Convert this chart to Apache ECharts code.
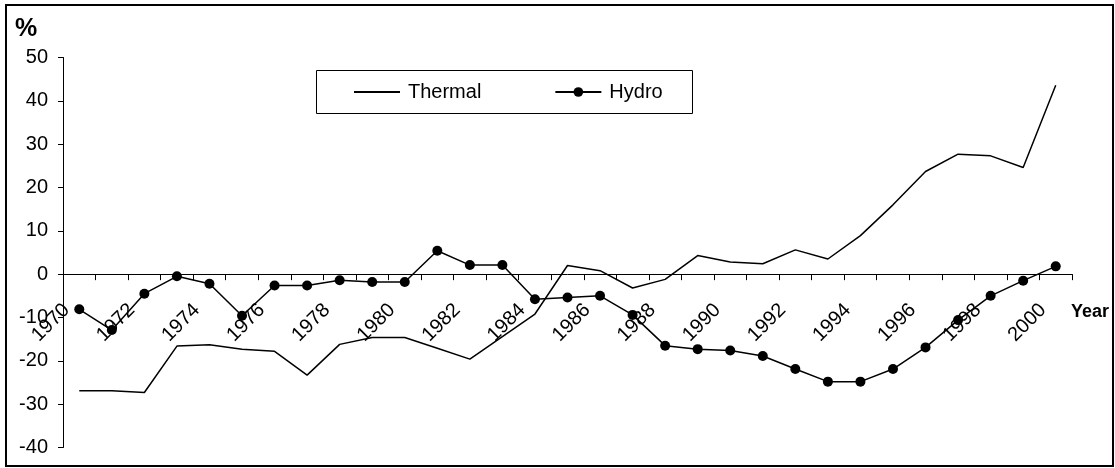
<!DOCTYPE html>
<html>
<head>
<meta charset="utf-8">
<script src="https://cdn.jsdelivr.net/npm/echarts@6/dist/echarts.min.js"></script>
<style>
html,body{margin:0;padding:0;background:#fff;}
#chart{width:1115px;height:468px;}
</style>
</head>
<body>
<div id="chart"></div>
<script>
var years = ['1970','1971','1972','1973','1974','1975','1976','1977','1978','1979','1980','1981','1982','1983','1984','1985','1986','1987','1988','1989','1990','1991','1992','1993','1994','1995','1996','1997','1998','1999','2000'];
var thermal = [-26.9,-26.9,-27.3,-16.6,-16.3,-17.3,-17.8,-23.3,-16.2,-14.6,-14.6,-17.1,-19.6,-14.4,-9.2,2.0,0.8,-3.2,-1.2,4.3,2.8,2.4,5.6,3.5,8.9,16.0,23.7,27.7,27.3,24.6,43.6];
var hydro = [-8.1,-12.9,-4.5,-0.5,-2.2,-9.6,-2.6,-2.6,-1.4,-1.8,-1.8,5.4,2.1,2.1,-5.8,-5.4,-5.0,-9.4,-16.5,-17.3,-17.6,-18.9,-21.9,-24.8,-24.8,-21.9,-16.9,-10.6,-5.0,-1.5,1.8];
var seriesNames = ['Thermal','Hydro'];
var yTicks = {min:-40, max:50, step:10};

var FONT = '"Liberation Sans", Arial, sans-serif';
var W = 1115, H = 468;
var gridTop = 57.5, gridBottom = 20.5;
var plotH = H - gridTop - gridBottom;
// move the category axis (line, ticks, labels) up to the value 0 line
var zeroOffset = -(0 - yTicks.min) / (yTicks.max - yTicks.min) * plotH;

var chart = echarts.init(document.getElementById('chart'), null, {renderer:'canvas'});
chart.setOption({
  animation:false,
  backgroundColor:'#fff',
  textStyle:{fontFamily:FONT, color:'#000'},
  grid:{left:63, right:43, top:gridTop, bottom:gridBottom, containLabel:false, outerBoundsMode:'none'},
  legend:{
    data:[{name:seriesNames[0], itemStyle:{opacity:0}}, {name:seriesNames[1]}],
    left:353, top:82,
    itemWidth:46, itemHeight:12, itemGap:73,
    padding:0,
    textStyle:{fontFamily:FONT, fontSize:20, color:'#000', padding:[0,0,0,3]}
  },
  xAxis:{
    type:'category', data:years, boundaryGap:true, position:'bottom', offset:zeroOffset,
    axisLine:{onZero:false, lineStyle:{color:'#000', width:1}},
    axisTick:{show:true, interval:0, length:6, inside:false, lineStyle:{color:'#000'}},
    axisLabel:{interval:1, rotate:45, fontSize:20, fontFamily:FONT, color:'#000', margin:20, padding:[0,18,0,0]},
    splitLine:{show:false}
  },
  yAxis:{
    type:'value', min:yTicks.min, max:yTicks.max, interval:yTicks.step,
    axisLine:{show:true, lineStyle:{color:'#000', width:1}},
    axisTick:{show:true, length:5, inside:false, lineStyle:{color:'#000'}},
    axisLabel:{fontSize:20, fontFamily:FONT, color:'#000', margin:15},
    splitLine:{show:false}
  },
  series:[
    {name:seriesNames[0], type:'line', data:thermal, symbol:'none', showSymbol:false,
     lineStyle:{color:'#000', width:1.5}, itemStyle:{color:'#000'}, z:2},
    {name:seriesNames[1], type:'line', data:hydro, symbol:'circle', symbolSize:10,
     lineStyle:{color:'#000', width:1.5}, itemStyle:{color:'#000'}, z:3}
  ],
  graphic:[
    {type:'rect', shape:{x:6, y:5, width:1107, height:461}, style:{fill:'none', stroke:'#000', lineWidth:2}, silent:true, z:100},
    {type:'rect', shape:{x:316.5, y:70.5, width:376, height:43}, style:{fill:'none', stroke:'#000', lineWidth:1}, silent:true, z:100},
    {type:'text', left:15, top:17, style:{text:'%', font:'bold 25px ' + FONT, fill:'#000'}, z:100},
    {type:'text', left:1071, top:303, style:{text:'Year', font:'bold 18px ' + FONT, fill:'#000'}, z:100}
  ]
});
</script>
</body>
</html>
